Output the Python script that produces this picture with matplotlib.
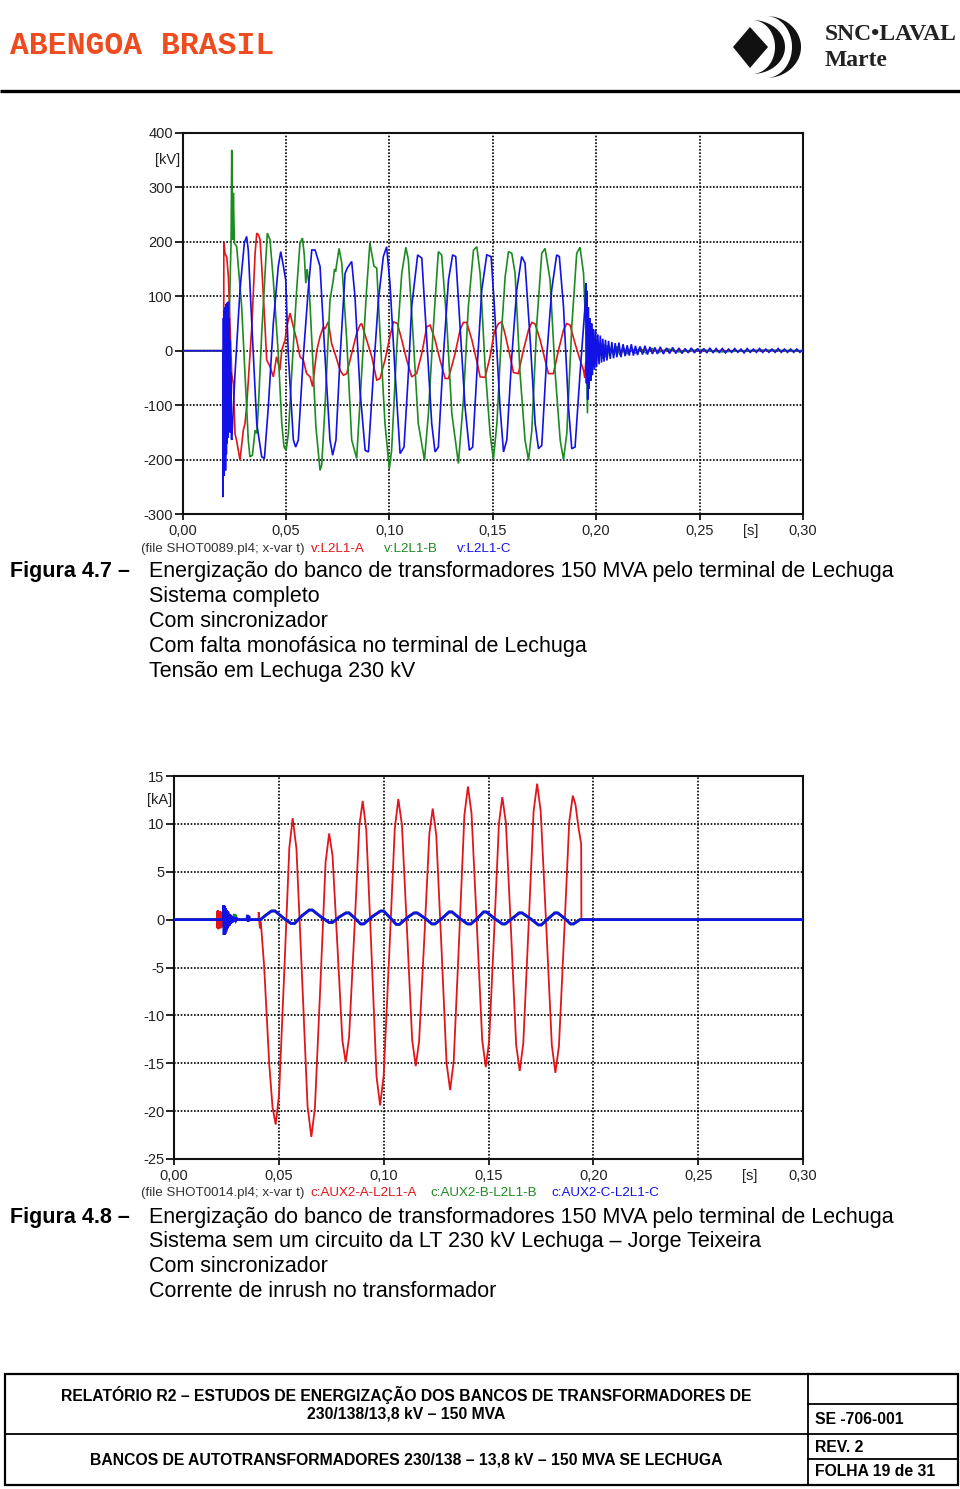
import numpy as np
import matplotlib
matplotlib.use("Agg")
import matplotlib.pyplot as plt
from matplotlib.patches import Polygon, Rectangle

# ---------------- data ----------------
# Figura 4.7 - tensões em Lechuga [kV] x tempo [s]
volt_a = [
    (0.0, 0), (0.0199, 0), (0.0200, 198), (0.0206, 178), (0.0214, 172), (0.0222, 135),
    (0.0230, 43), (0.0238, -43), (0.0246, -61), (0.0254, -153), (0.0262, -166),
    (0.0278, -201), (0.0294, -146), (0.0302, -134), (0.0310, -103), (0.0335, 44),
    (0.0351, 179), (0.0359, 216), (0.0367, 213), (0.0375, 204), (0.0383, 155),
    (0.0399, 44), (0.0407, -17), (0.0423, -29), (0.0439, -48), (0.0455, -11),
    (0.0471, -36), (0.0480, 1), (0.0496, 20), (0.0504, 44), (0.0520, 69), (0.0536, 44),
    (0.0552, 20), (0.0568, -11), (0.0584, -17), (0.0600, -42), (0.0617, -48),
    (0.0629, -66), (0.0649, 0), (0.0665, 26), (0.0681, 44), (0.0689, 40), (0.0705, 53),
    (0.0721, 13), (0.0737, -5), (0.0762, -36), (0.0778, -45), (0.0794, -42),
    (0.0818, -5), (0.0842, 32), (0.0858, 47), (0.0866, 50), (0.0890, 20), (0.0915, -11),
    (0.0939, -54), (0.0955, -51), (0.0979, -17), (0.1003, 26), (0.1020, 53),
    (0.1039, 50), (0.1060, 20), (0.1084, -17), (0.1108, -48), (0.1132, -42),
    (0.1157, -5), (0.1181, 44), (0.1197, 47), (0.1221, 20), (0.1245, -17), (0.1270, -51),
    (0.1286, -51), (0.1318, -5), (0.1342, 38), (0.1358, 52), (0.1374, 52), (0.1399, 20),
    (0.1423, -20), (0.1439, -48), (0.1463, -49), (0.1487, -11), (0.1508, 35),
    (0.1528, 50), (0.1544, 53), (0.1560, 30), (0.1584, -11), (0.1600, -40),
    (0.1624, -42), (0.1648, 1), (0.1673, 38), (0.1689, 52), (0.1705, 49), (0.1729, 20),
    (0.1753, -17), (0.1769, -42), (0.1793, -42), (0.1818, 1), (0.1842, 38), (0.1858, 50),
    (0.1874, 47), (0.1898, 13), (0.1922, -17), (0.1939, -36), (0.1945, -50),
    (0.1950, -20), (0.1955, -45), (0.1960, -10), (0.1966, -30), (0.1972, 0),
    (0.1980, -20), (0.1988, 5), (0.1996, -12), (0.2005, 6), (0.2015, -8), (0.2025, 5),
    (0.2040, -5), (0.2055, 4), (0.2075, -3), (0.2100, 3), (0.2130, -2), (0.2200, 1),
    (0.2400, 0), (0.3000, 0),
]
volt_b = [
    (0.0, 0), (0.0222, 0), (0.0235, 204), (0.0238, 369), (0.0243, 204), (0.0246, 290),
    (0.0251, 198), (0.0254, 196), (0.0262, 191), (0.0270, 155), (0.0286, 81),
    (0.0302, -42), (0.0318, -164), (0.0326, -195), (0.0338, -192), (0.0351, -146),
    (0.0359, -152), (0.0367, -103), (0.0383, 32), (0.0399, 142), (0.0410, 216),
    (0.0423, 204), (0.0439, 130), (0.0463, -5), (0.0480, -134), (0.0491, -177),
    (0.0501, -183), (0.0512, -152), (0.0528, -42), (0.0552, 112), (0.0568, 198),
    (0.0580, 207), (0.0589, 175), (0.0596, 124), (0.0602, 150), (0.0612, 120),
    (0.0625, 20), (0.0645, -140), (0.0665, -220), (0.0673, -210), (0.0689, -103),
    (0.0713, 93), (0.0729, 130), (0.0735, 150), (0.0740, 145), (0.0757, 188),
    (0.0770, 161), (0.0794, 20), (0.0818, -164), (0.0842, -198), (0.0866, -42),
    (0.0890, 112), (0.0906, 198), (0.0926, 155), (0.0939, 152), (0.0955, 32),
    (0.0979, -134), (0.1000, -217), (0.1011, -183), (0.1036, 7), (0.1060, 142),
    (0.1080, 190), (0.1092, 167), (0.1116, 20), (0.1140, -134), (0.1170, -201),
    (0.1189, -115), (0.1213, 44), (0.1237, 182), (0.1253, 176), (0.1278, 50),
    (0.1302, -115), (0.1334, -207), (0.1358, -91), (0.1382, 81), (0.1407, 185),
    (0.1423, 191), (0.1439, 142), (0.1463, -29), (0.1487, -152), (0.1503, -200),
    (0.1520, -134), (0.1544, 44), (0.1560, 136), (0.1576, 182), (0.1592, 179),
    (0.1608, 142), (0.1632, -42), (0.1656, -164), (0.1673, -201), (0.1689, -146),
    (0.1713, 50), (0.1737, 179), (0.1753, 188), (0.1777, 130), (0.1802, -42),
    (0.1826, -164), (0.1842, -200), (0.1858, -152), (0.1882, 44), (0.1906, 179),
    (0.1922, 190), (0.1939, 142), (0.1952, 20), (0.1958, -115), (0.1962, 40),
    (0.1966, -60), (0.1970, 30), (0.1975, -40), (0.1980, 25), (0.1986, -30),
    (0.1992, 20), (0.1998, -25), (0.2005, 18), (0.2012, -20), (0.2020, 15),
    (0.2028, -15), (0.2036, 12), (0.2045, -12), (0.2055, 10), (0.2065, -10),
    (0.2075, 9), (0.2085, -9), (0.2100, 8), (0.2115, -8), (0.2130, 7), (0.2150, -6),
    (0.2170, 6), (0.2190, -5), (0.2210, 5), (0.2240, -4), (0.2270, 4), (0.2300, -3),
    (0.2350, 3), (0.2400, -2), (0.2500, 2), (0.2600, -2), (0.2800, 1), (0.3000, 0),
]
volt_c = [
    (0.0, 0), (0.0195, 0), (0.0196, -269), (0.0198, 60), (0.0200, -230), (0.0202, 75),
    (0.0204, -200), (0.0206, 80), (0.0208, -220), (0.0210, 85), (0.0212, -190),
    (0.0214, 88), (0.0216, -170), (0.0218, 80), (0.0220, -160), (0.0222, 90),
    (0.0224, -150), (0.0226, 60), (0.0228, -140), (0.0230, 20), (0.0232, -150),
    (0.0234, -40), (0.0236, -160), (0.0238, -164), (0.0254, -42), (0.0278, 112),
    (0.0299, 198), (0.0310, 210), (0.0318, 185), (0.0335, 50), (0.0359, -134),
    (0.0383, -195), (0.0396, -198), (0.0415, -103), (0.0439, 50), (0.0463, 155),
    (0.0475, 182), (0.0488, 155), (0.0499, 130), (0.0512, -11), (0.0536, -164),
    (0.0547, -177), (0.0560, -164), (0.0584, -11), (0.0608, 112), (0.0625, 185),
    (0.0641, 185), (0.0665, 155), (0.0689, -11), (0.0713, -164), (0.0726, -192),
    (0.0742, -164), (0.0762, -11), (0.0786, 142), (0.0797, 152), (0.0818, 164),
    (0.0834, 99), (0.0858, -72), (0.0883, -183), (0.0899, -186), (0.0923, -42),
    (0.0947, 93), (0.0971, 173), (0.0987, 191), (0.1003, 124), (0.1028, -42),
    (0.1052, -189), (0.1071, -177), (0.1092, -42), (0.1108, 81), (0.1137, 176),
    (0.1157, 170), (0.1181, 20), (0.1205, -134), (0.1221, -186), (0.1237, -177),
    (0.1261, -11), (0.1286, 130), (0.1306, 176), (0.1321, 173), (0.1342, 44),
    (0.1366, -103), (0.1387, -183), (0.1403, -177), (0.1423, -42), (0.1447, 112),
    (0.1471, 176), (0.1492, 173), (0.1508, 81), (0.1535, -103), (0.1552, -186),
    (0.1568, -164), (0.1592, -11), (0.1616, 112), (0.1640, 173), (0.1656, 161),
    (0.1681, 20), (0.1705, -134), (0.1721, -180), (0.1737, -174), (0.1761, -11),
    (0.1785, 112), (0.1809, 176), (0.1822, 173), (0.1842, 81), (0.1866, -103),
    (0.1882, -180), (0.1898, -177), (0.1922, -42), (0.1946, 81), (0.1950, 124),
    (0.1953, -60), (0.1956, 110), (0.1959, -90), (0.1962, 80), (0.1966, -70),
    (0.1970, 60), (0.1974, -55), (0.1978, 50), (0.1982, -45), (0.1987, 40),
    (0.1992, -35), (0.1997, 38), (0.2002, -30), (0.2008, 30), (0.2014, -25),
    (0.2020, 28), (0.2026, -22), (0.2032, 22), (0.2038, -20), (0.2045, 20),
    (0.2052, -18), (0.2060, 18), (0.2068, -15), (0.2076, 16), (0.2084, -14),
    (0.2092, 14), (0.2100, -12), (0.2110, 15), (0.2120, -12), (0.2130, 12),
    (0.2140, -10), (0.2150, 10), (0.2160, -9), (0.2170, 12), (0.2180, -9), (0.2190, 9),
    (0.2200, -8), (0.2212, 8), (0.2224, -7), (0.2236, 9), (0.2248, -7), (0.2260, 7),
    (0.2272, -6), (0.2284, 6), (0.2296, -6), (0.2310, 7), (0.2325, -6), (0.2340, 5),
    (0.2355, -5), (0.2370, 6), (0.2385, -5), (0.2400, 5), (0.2415, -5), (0.2430, 4),
    (0.2445, -4), (0.2460, 5), (0.2475, -4), (0.2490, 4), (0.2505, -4), (0.2520, 4),
    (0.2535, -4), (0.2550, 5), (0.2565, -4), (0.2580, 4), (0.2595, -3), (0.2610, 4),
    (0.2625, -4), (0.2640, 3), (0.2655, -3), (0.2670, 4), (0.2685, -3), (0.2700, 3),
    (0.2715, -4), (0.2730, 4), (0.2745, -3), (0.2760, 3), (0.2775, -3), (0.2790, 4),
    (0.2805, -3), (0.2820, 3), (0.2835, -3), (0.2850, 3), (0.2865, -3), (0.2880, 4),
    (0.2895, -3), (0.2910, 3), (0.2925, -3), (0.2940, 3), (0.2955, -3), (0.2970, 3),
    (0.2985, -3), (0.3000, 2),
]

# Figura 4.8 - corrente de inrush [kA] x tempo [s]
curr_a = [
    (0.0, 0), (0.0204, 0), (0.0205, 0.9), (0.0207, -0.9), (0.0209, 1.0), (0.0211, -1.0),
    (0.0213, 0.9), (0.0215, -0.9), (0.0217, 0.8), (0.0219, -0.8), (0.0221, 0.9),
    (0.0223, -0.9), (0.0225, 0.8), (0.0227, -0.8), (0.0229, 0.6), (0.0231, -0.6),
    (0.0233, 0), (0.0403, 0), (0.0404, 0.8), (0.0407, -0.3), (0.0410, -0.9),
    (0.0412, -0.2), (0.0415, -0.5), (0.0430, -4.9), (0.0454, -15.0), (0.0470, -19.6),
    (0.0485, -21.4), (0.0501, -18.3), (0.0526, -5.4), (0.0550, 7.5), (0.0566, 10.6),
    (0.0584, 7.4), (0.0611, -6.1), (0.0637, -19.5), (0.0655, -22.7), (0.0672, -19.7),
    (0.0698, -6.9), (0.0723, 6.0), (0.0740, 9.0), (0.0756, 6.7), (0.0780, -3.0),
    (0.0803, -12.6), (0.0819, -14.9), (0.0835, -12.3), (0.0860, -1.3), (0.0884, 9.8),
    (0.0900, 12.4), (0.0917, 9.4), (0.0942, -3.5), (0.0966, -16.4), (0.0983, -19.4),
    (0.1000, -16.3), (0.1027, -3.4), (0.1053, 9.5), (0.1070, 12.6), (0.1087, 9.9),
    (0.1112, -1.4), (0.1136, -12.6), (0.1153, -15.3), (0.1169, -12.7), (0.1194, -1.9),
    (0.1218, 9.0), (0.1234, 11.6), (0.1251, 8.8), (0.1276, -3.1), (0.1300, -15.0),
    (0.1317, -17.8), (0.1334, -14.8), (0.1360, -2.0), (0.1385, 10.9), (0.1402, 13.9),
    (0.1419, 11.1), (0.1445, -0.8), (0.1470, -12.6), (0.1487, -15.4), (0.1503, -12.7),
    (0.1527, -1.3), (0.1550, 10.1), (0.1566, 12.8), (0.1583, 10.1), (0.1608, -1.5),
    (0.1632, -13.1), (0.1649, -15.8), (0.1666, -12.9), (0.1691, -0.8), (0.1715, 11.3),
    (0.1732, 14.2), (0.1749, 11.3), (0.1776, -0.9), (0.1802, -13.1), (0.1819, -16.0),
    (0.1836, -13.2), (0.1861, -1.5), (0.1885, 10.2), (0.1902, 12.95), (0.1915, 12.0),
    (0.1930, 9.5), (0.1942, 7.9), (0.1943, 0), (0.3000, 0),
]
curr_osc = [
    (0.0412, 0), (0.0440, 0.5), (0.0465, 0.9), (0.0482, 0.9), (0.0520, 0.2),
    (0.0558, -0.4), (0.0575, -0.4), (0.0610, 0.4), (0.0645, 1.0), (0.0660, 1.0),
    (0.0700, 0.3), (0.0740, -0.3), (0.0755, -0.3), (0.0790, 0.3), (0.0820, 0.7),
    (0.0835, 0.7), (0.0865, 0.1), (0.0890, -0.45), (0.0905, -0.45), (0.0945, 0.3),
    (0.0985, 0.9), (0.1000, 0.9), (0.1035, 0.1), (0.1060, -0.5), (0.1075, -0.5),
    (0.1112, 0.2), (0.1145, 0.7), (0.1160, 0.7), (0.1200, 0.1), (0.1230, -0.45),
    (0.1245, -0.45), (0.1282, 0.2), (0.1312, 0.8), (0.1326, 0.8), (0.1365, 0.1),
    (0.1400, -0.45), (0.1416, -0.45), (0.1450, 0.2), (0.1476, 0.8), (0.1490, 0.8),
    (0.1530, 0.1), (0.1566, -0.45), (0.1580, -0.45), (0.1618, 0.2), (0.1646, 0.7),
    (0.1660, 0.7), (0.1700, 0.1), (0.1738, -0.55), (0.1752, -0.55), (0.1790, 0.2),
    (0.1816, 0.7), (0.1830, 0.7), (0.1865, 0.1), (0.1891, -0.45), (0.1905, -0.45),
    (0.1936, 0.0), (0.3000, 0),
]
curr_b = [
    (0.0, 0), (0.0285, 0), (0.0288, 0.6), (0.0291, -0.2), (0.0294, 0.5), (0.0297, 0),
] + curr_osc
curr_c = [
    (0.0, 0), (0.0236, 0), (0.0237, 1.5), (0.0239, -1.6), (0.0241, 1.4), (0.0243, -1.5),
    (0.0245, 1.2), (0.0247, -1.3), (0.0249, 1.0), (0.0251, -1.1), (0.0253, 0.9),
    (0.0255, -0.9), (0.0257, 0.8), (0.0259, -0.7), (0.0262, 0.6), (0.0265, -0.6),
    (0.0268, 0.5), (0.0271, -0.4), (0.0274, 0.4), (0.0277, -0.3), (0.0281, 0.3),
    (0.0285, -0.2), (0.0290, 0.2), (0.0295, -0.1), (0.0300, 0.1), (0.0310, 0),
    (0.0348, 0), (0.0351, 0.5), (0.0354, -0.2), (0.0357, 0.4), (0.0360, 0),
] + curr_osc

t_ticks = [0.0, 0.05, 0.10, 0.15, 0.20, 0.25, 0.30]
t_labels = ["0,00", "0,05", "0,10", "0,15", "0,20", "0,25", "0,30"]
kv_ticks = [400, 300, 200, 100, 0, -100, -200, -300]
ka_ticks = [15, 10, 5, 0, -5, -10, -15, -20, -25]

top_legend = ["v:L2L1-A", "v:L2L1-B", "v:L2L1-C"]
bot_legend = ["c:AUX2-A-L2L1-A", "c:AUX2-B-L2L1-B", "c:AUX2-C-L2L1-C"]

RED, GREEN, BLUE = "#e0161c", "#1d8a22", "#1212e6"
NARROW = ["Liberation Sans Narrow", "Liberation Sans", "DejaVu Sans"]
SANS = ["Liberation Sans", "DejaVu Sans"]

W, H = 960, 1489
fig = plt.figure(figsize=(W / 100, H / 100), dpi=100)
fig.patch.set_facecolor("white")

# page layer in pixel coordinates (y down)
page = fig.add_axes([0, 0, 1, 1])
page.set_xlim(0, W)
page.set_ylim(H, 0)
page.axis("off")


def setup_axes(ax, yticks, unit, unit_y, unit_dx):
    ax.set_xlim(0, 0.30)
    ax.set_ylim(yticks[-1], yticks[0])
    ax.set_xticks(t_ticks)
    ax.set_xticklabels(t_labels)
    ax.set_yticks(yticks)
    ax.set_yticklabels([str(v) for v in yticks])
    for lab in ax.get_xticklabels() + ax.get_yticklabels():
        lab.set_family(NARROW)
        lab.set_fontsize(10.5)
        lab.set_color("#222222")
    ax.tick_params(axis="y", direction="out", length=6, width=1.2, pad=1)
    ax.tick_params(axis="x", direction="out", length=4, width=1.2, pad=3)
    for s in ax.spines.values():
        s.set_linewidth(1.5)
        s.set_color("#111111")
    ax.grid(True, color="black", linestyle=(0, (1, 1)), linewidth=1.2)
    ax.set_axisbelow(True)
    ax.text(unit_dx, unit_y, unit, transform=ax.transData, ha="right", va="center",
            family=NARROW, fontsize=10.5, color="#222222", clip_on=False)
    ax.text(0.2745, -0.045, "[s]", transform=ax.get_xaxis_transform(), ha="center",
            va="center", family=NARROW, fontsize=10.5, color="#222222")


def draw(ax, pairs, color, lw):
    t, v = zip(*pairs)
    ax.plot(t, v, color=color, linewidth=lw, solid_joinstyle="miter", zorder=3)


# ---------- Figura 4.7 ----------
ax1 = fig.add_axes([182.5 / W, 1 - 514 / H, 620.5 / W, 381 / H])
setup_axes(ax1, kv_ticks, "[kV]", 350, -0.0012)
draw(ax1, volt_a, RED, 1.2)
draw(ax1, volt_b, GREEN, 1.2)
draw(ax1, volt_c, BLUE, 1.2)

# ---------- Figura 4.8 ----------
ax2 = fig.add_axes([174 / W, 1 - 1159 / H, 629 / W, 383 / H])
setup_axes(ax2, ka_ticks, "[kA]", 12.5, -0.001)
draw(ax2, curr_a, RED, 1.3)
draw(ax2, curr_b, GREEN, 2.0)
draw(ax2, curr_c, BLUE, 2.0)

# file / series lines under each chart
for y, fname, names, xs in [
    (549, "(file SHOT0089.pl4; x-var t)", top_legend, [311, 384, 457]),
    (1193, "(file SHOT0014.pl4; x-var t)", bot_legend, [310, 430, 551]),
]:
    page.text(141, y, fname, family=NARROW, fontsize=9.6, color="#333333", va="center")
    for x, name, c in zip(xs, names, [RED, GREEN, BLUE]):
        page.text(x, y, name, family=NARROW, fontsize=9.6, color=c, va="center")

# ---------- captions ----------
cap_fs = 15.5
captions = [
    (572, "Figura 4.7 \u2013", [
        "Energização do banco de transformadores 150 MVA pelo terminal de Lechuga",
        "Sistema completo",
        "Com sincronizador",
        "Com falta monofásica no terminal de Lechuga",
        "Tensão em Lechuga 230 kV",
    ]),
    (1217, "Figura 4.8 \u2013", [
        "Energização do banco de transformadores 150 MVA pelo terminal de Lechuga",
        "Sistema sem um circuito da LT 230 kV Lechuga \u2013 Jorge Teixeira",
        "Com sincronizador",
        "Corrente de inrush no transformador",
    ]),
]
for y0, head, lines in captions:
    page.text(10, y0, head, family=SANS, fontsize=cap_fs, weight="bold", va="center")
    for i, line in enumerate(lines):
        page.text(149, y0 + i * 24.8, line, family=SANS, fontsize=cap_fs, va="center")

# ---------- header ----------
page.text(10, 46, "ABENGOA BRASIL", family=["Liberation Mono", "DejaVu Sans Mono"],
          fontsize=22.6, weight="bold", color="#ee4b1f", va="center")
page.plot([0, W], [91, 91], color="black", linewidth=2.4, solid_capstyle="butt")

# logo: diamond + two crescents
page.add_patch(Polygon([(750, 27), (768, 47), (750, 68), (733, 47)], closed=True,
                       facecolor="#111111", edgecolor="none"))
phi = np.linspace(-np.pi / 2, np.pi / 2, 60)
for cx, b, a1, a2 in [(752, 27, 33, 23), (766, 31, 35, 26)]:
    outer = np.column_stack([cx + a1 * np.cos(phi), 47 + b * np.sin(phi)])
    inner = np.column_stack([cx + a2 * np.cos(phi[::-1]), 47 + b * np.sin(phi[::-1])])
    page.add_patch(Polygon(np.vstack([outer, inner]), closed=True,
                           facecolor="#111111", edgecolor="none"))
page.text(825, 35, "SNC\u2022LAVAL", family=["Liberation Serif", "DejaVu Serif"],
          fontsize=17, weight="bold", color="#222222", va="center")
page.text(825, 61, "Marte", family=["Liberation Serif", "DejaVu Serif"],
          fontsize=17, weight="bold", color="#222222", va="center")

# ---------- footer table ----------
page.add_patch(Rectangle((5, 1374), 953, 111, fill=False, edgecolor="black", linewidth=1.6))
page.plot([808, 808], [1374, 1485], color="black", linewidth=1.3)
page.plot([5, 958], [1434, 1434], color="black", linewidth=1.3)
page.plot([808, 958], [1404, 1404], color="black", linewidth=1.3)
page.plot([808, 958], [1459, 1459], color="black", linewidth=1.3)

foot_fs = 11.3
page.text(406, 1395, "RELATÓRIO R2 \u2013 ESTUDOS DE ENERGIZAÇÃO DOS BANCOS DE TRANSFORMADORES DE",
          family=NARROW, fontsize=foot_fs, weight="bold", ha="center", va="center")
page.text(406, 1414, "230/138/13,8 kV \u2013 150 MVA", family=NARROW, fontsize=foot_fs,
          weight="bold", ha="center", va="center")
page.text(406, 1460, "BANCOS DE AUTOTRANSFORMADORES 230/138 \u2013 13,8 kV \u2013 150 MVA SE LECHUGA",
          family=NARROW, fontsize=foot_fs, weight="bold", ha="center", va="center")
for y, s in [(1420, "SE -706-001"), (1447, "REV. 2"), (1472, "FOLHA 19 de 31")]:
    page.text(815, y, s, family=NARROW, fontsize=foot_fs, weight="bold", va="center")

fig.savefig("out.png", dpi=100, facecolor="white")
